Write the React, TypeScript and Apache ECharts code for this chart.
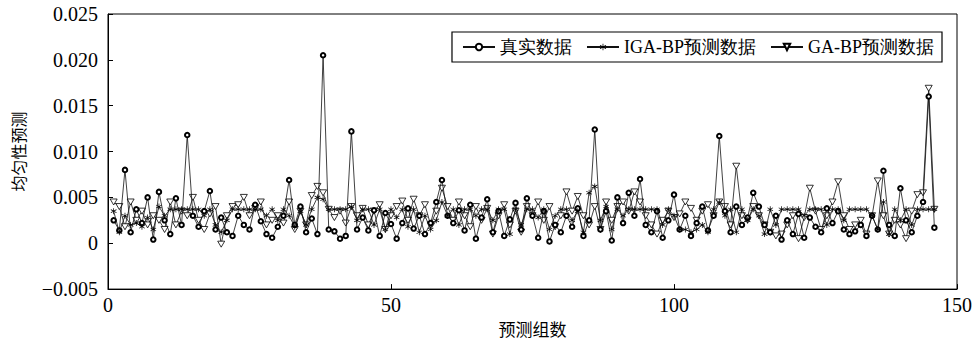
import React, { useEffect, useRef } from "react";
import * as echarts from "echarts";

const realData: number[] = [
  0.0025, 0.0014, 0.0080, 0.0012, 0.0037, 0.0022, 0.0050, 0.0004, 0.0056, 0.0025,
  0.0010, 0.0049, 0.0020, 0.0118, 0.0030, 0.0018, 0.0035, 0.0057, 0.0015, 0.0028,
  0.0012, 0.0008, 0.0030, 0.0020, 0.0015, 0.0042, 0.0024, 0.0010, 0.0006, 0.0018,
  0.0030, 0.0069, 0.0020, 0.0040, 0.0012, 0.0027, 0.0010, 0.0205, 0.0015, 0.0013,
  0.0005, 0.0008, 0.0122, 0.0015, 0.0028, 0.0014, 0.0036, 0.0008, 0.0033, 0.0021,
  0.0005, 0.0022, 0.0038, 0.0016, 0.0030, 0.0010, 0.0022, 0.0045, 0.0069, 0.0030,
  0.0022, 0.0036, 0.0014, 0.0042, 0.0005, 0.0028, 0.0048, 0.0012, 0.0035, 0.0008,
  0.0026, 0.0044, 0.0015, 0.0049, 0.0030, 0.0006, 0.0035, 0.0002, 0.0020, 0.0012,
  0.0030, 0.0018, 0.0038, 0.0008, 0.0025, 0.0124, 0.0015, 0.0035, 0.0003, 0.0050,
  0.0022, 0.0055, 0.0030, 0.0070, 0.0020, 0.0012, 0.0035, 0.0006, 0.0025, 0.0053,
  0.0015, 0.0030, 0.0008, 0.0022, 0.0040, 0.0014, 0.0030, 0.0117, 0.0035, 0.0012,
  0.0040, 0.0020, 0.0028, 0.0055, 0.0040, 0.0020, 0.0012, 0.0030, 0.0004, 0.0025,
  0.0010, 0.0032, 0.0006, 0.0028, 0.0018, 0.0012, 0.0038, 0.0022, 0.0035, 0.0015,
  0.0010, 0.0013, 0.0020, 0.0008, 0.0030, 0.0015, 0.0079, 0.0020, 0.0008, 0.0060,
  0.0025, 0.0012, 0.0030, 0.0045, 0.0160, 0.0017,
];

const igaData: number[] = [
  0.0035, 0.0012, 0.0030, 0.0020, 0.0022, 0.0018, 0.0028, 0.0015, 0.0040, 0.0030,
  0.0037, 0.0037, 0.0037, 0.0037, 0.0037, 0.0037, 0.0030, 0.0037, 0.0020, 0.0012,
  0.0025, 0.0037, 0.0037, 0.0037, 0.0037, 0.0037, 0.0037, 0.0030, 0.0037, 0.0025,
  0.0037, 0.0030, 0.0018, 0.0035, 0.0020, 0.0037, 0.0050, 0.0048, 0.0037, 0.0037,
  0.0037, 0.0037, 0.0040, 0.0025, 0.0037, 0.0037, 0.0020, 0.0037, 0.0015, 0.0037,
  0.0028, 0.0037, 0.0018, 0.0037, 0.0012, 0.0030, 0.0015, 0.0025, 0.0045, 0.0030,
  0.0037, 0.0020, 0.0037, 0.0037, 0.0030, 0.0037, 0.0037, 0.0025, 0.0037, 0.0037,
  0.0010, 0.0037, 0.0020, 0.0037, 0.0037, 0.0028, 0.0037, 0.0015, 0.0030, 0.0037,
  0.0037, 0.0025, 0.0035, 0.0012, 0.0055, 0.0062, 0.0025, 0.0040, 0.0015, 0.0037,
  0.0030, 0.0037, 0.0037, 0.0037, 0.0037, 0.0037, 0.0037, 0.0020, 0.0037, 0.0030,
  0.0015, 0.0015, 0.0012, 0.0015, 0.0020, 0.0012, 0.0037, 0.0045, 0.0030, 0.0037,
  0.0012, 0.0037, 0.0025, 0.0037, 0.0030, 0.0010, 0.0037, 0.0020, 0.0037, 0.0037,
  0.0037, 0.0037, 0.0030, 0.0037, 0.0037, 0.0037, 0.0020, 0.0037, 0.0037, 0.0025,
  0.0037, 0.0037, 0.0037, 0.0037, 0.0030, 0.0015, 0.0045, 0.0010, 0.0037, 0.0025,
  0.0037, 0.0020, 0.0037, 0.0037, 0.0037, 0.0037,
];

const gaData: number[] = [
  0.0045, 0.0040, 0.0018, 0.0045, 0.0025, 0.0035, 0.0020, 0.0030, 0.0025, 0.0015,
  0.0045, 0.0020, 0.0035, 0.0030, 0.0050, 0.0025, 0.0015, 0.0032, 0.0040, -0.0001,
  0.0030, 0.0040, 0.0042, 0.0050, 0.0030, 0.0038, 0.0045, 0.0020, 0.0025, 0.0030,
  0.0022, 0.0045, 0.0015, 0.0035, 0.0020, 0.0052, 0.0062, 0.0055, 0.0037, 0.0028,
  0.0035, 0.0022, 0.0040, 0.0030, 0.0038, 0.0020, 0.0035, 0.0042, 0.0015, 0.0030,
  0.0040, 0.0046, 0.0025, 0.0048, 0.0030, 0.0042, 0.0020, 0.0035, 0.0060, 0.0040,
  0.0025, 0.0045, 0.0030, 0.0018, 0.0040, 0.0025, 0.0038, 0.0010, 0.0030, 0.0042,
  0.0020, 0.0035, 0.0012, 0.0040, 0.0030, 0.0045, 0.0025, 0.0040, 0.0018, 0.0030,
  0.0056, 0.0035, 0.0051, 0.0030, 0.0020, 0.0040, 0.0015, 0.0045, 0.0025, 0.0040,
  0.0045, 0.0035, 0.0056, 0.0045, 0.0030, 0.0020, 0.0010, 0.0025, 0.0035, 0.0028,
  0.0032, 0.0045, 0.0038, 0.0025, 0.0035, 0.0042, 0.0030, 0.0045, 0.0040, 0.0020,
  0.0084, 0.0030, 0.0025, 0.0040, 0.0030, 0.0020, 0.0012, 0.0008, 0.0010, 0.0020,
  0.0030, 0.0005, 0.0028, 0.0060, 0.0035, 0.0015, 0.0030, 0.0045, 0.0067, 0.0030,
  0.0015, 0.0020, 0.0025, 0.0010, 0.0030, 0.0068, 0.0030, 0.0010, 0.0025, 0.0020,
  0.0005, 0.0035, 0.0053, 0.0055, 0.0169, 0.0037,
];

const seriesNames: string[] = ["真实数据", "IGA-BP预测数据", "GA-BP预测数据"];
const yTicks: number[] = [-0.005, 0, 0.005, 0.01, 0.015, 0.02, 0.025];
const xTicks: number[] = [0, 50, 100, 150];

const SERIF = "Liberation Serif";
const CJK = "Noto Sans CJK SC";

const STAR =
  "path://M4.5,0 L5.5,0 L5.5,3.6 L8.6,1.8 L9.1,2.7 L6,4.5 L9.1,6.3 L8.6,7.2 L5.5,5.4 L5.5,9 L4.5,9 L4.5,5.4 L1.4,7.2 L0.9,6.3 L4,4.5 L0.9,2.7 L1.4,1.8 L4.5,3.6 Z";
const TRI = "path://M0,0 L10,0 L5,8.66 Z";

const toPoints = (arr: number[]) => arr.map((v, i) => [i + 1, v]);

export default function App() {
  const ref = useRef<HTMLDivElement>(null);
  useEffect(() => {
    if (!ref.current) return;
    const chart = echarts.init(ref.current, undefined, { renderer: "svg" });
    const lineStyle = { color: "#111", width: 0.8 };
    chart.setOption({
      animation: false,
      backgroundColor: "#fff",
      grid: {
        left: 108,
        right: 15,
        top: 14,
        bottom: 50,
        show: true,
        borderColor: "#000",
        borderWidth: 1,
        backgroundColor: "transparent",
      },
      legend: {
        top: 32,
        right: 33,
        data: seriesNames,
        borderColor: "#000",
        borderWidth: 1.2,
        borderRadius: 0,
        padding: [6, 8, 6, 10],
        itemGap: 14,
        itemWidth: 32,
        itemHeight: 8,
        textStyle: { fontFamily: SERIF, fontSize: 18, color: "#000" },
      },
      xAxis: {
        type: "value",
        min: 0,
        max: 150,
        interval: 50,
        name: "预测组数",
        nameLocation: "middle",
        nameGap: 29,
        nameTextStyle: { fontFamily: CJK, fontSize: 17, color: "#000" },
        axisLine: { show: true, onZero: false, lineStyle: { color: "#000", width: 1 } },
        axisTick: { show: true, inside: true, length: 5, lineStyle: { color: "#000" } },
        axisLabel: {
          fontFamily: SERIF,
          fontSize: 20,
          color: "#000",
          margin: 6,
          formatter: (v: number) => (xTicks.includes(v) ? String(v) : ""),
        },
        splitLine: { show: false },
      },
      yAxis: {
        type: "value",
        min: -0.005,
        max: 0.025,
        interval: 0.005,
        name: "均匀性预测",
        nameLocation: "middle",
        nameRotate: 90,
        nameGap: 82,
        nameTextStyle: { fontFamily: CJK, fontSize: 16, color: "#000" },
        axisLine: { show: true, onZero: false, lineStyle: { color: "#000", width: 1 } },
        axisTick: { show: true, inside: true, length: 5, lineStyle: { color: "#000" } },
        axisLabel: {
          fontFamily: SERIF,
          fontSize: 20,
          color: "#000",
          margin: 10,
          formatter: (v: number) => {
            const t = yTicks.find((k) => Math.abs(k - v) < 1e-9);
            if (t === undefined) return "";
            if (Math.abs(t) < 1e-9) return "0";
            return (t < 0 ? "\u2212" : "") + Math.abs(t).toFixed(3);
          },
        },
        splitLine: { show: false },
      },
      series: [
        {
          name: seriesNames[0],
          type: "line",
          data: toPoints(realData),
          symbol: "emptyCircle",
          symbolSize: 4.5,
          showAllSymbol: true,
          lineStyle,
          itemStyle: { color: "#000", borderWidth: 0.8 },
          z: 3,
        },
        {
          name: seriesNames[1],
          type: "line",
          data: toPoints(igaData),
          symbol: STAR,
          symbolSize: 6,
          showAllSymbol: true,
          lineStyle,
          itemStyle: { color: "#000", borderColor: "#000", borderWidth: 0 },
          z: 4,
        },
        {
          name: seriesNames[2],
          type: "line",
          data: toPoints(gaData),
          symbol: TRI,
          symbolSize: [7, 6],
          showAllSymbol: true,
          lineStyle,
          itemStyle: { color: "#fff", borderColor: "#000", borderWidth: 0.8 },
          z: 2,
        },
      ],
    });
    return () => chart.dispose();
  }, []);
  return (
    <div
      ref={ref}
      style={{ position: "fixed", left: 0, top: 0, width: 975, height: 342, background: "#fff" }}
    />
  );
}
